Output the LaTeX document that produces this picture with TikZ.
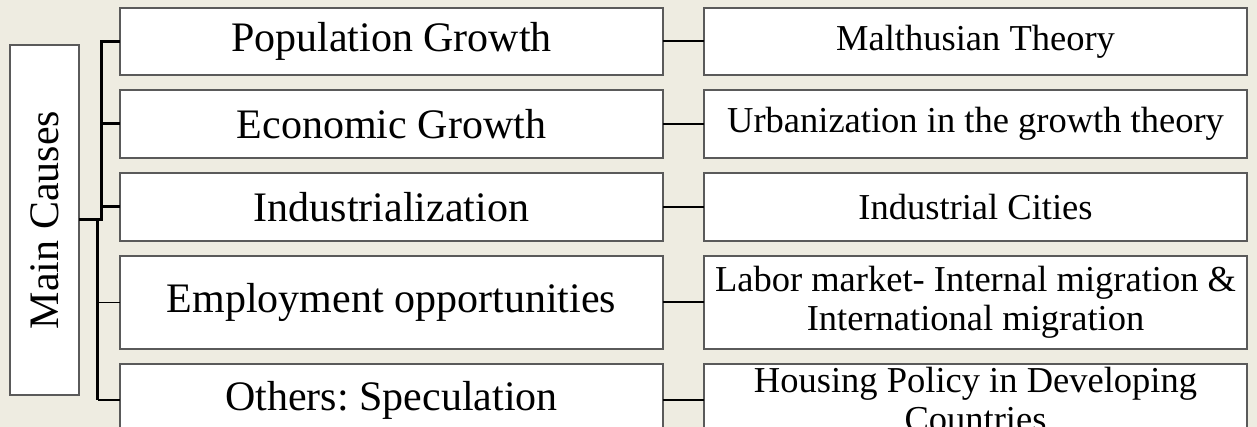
\documentclass[tikz,border=0pt]{standalone}
\usepackage{fontspec}
\setmainfont{Liberation Serif}
\usepackage{tikz}
\definecolor{bgtan}{HTML}{EEECE1}
\definecolor{boxline}{HTML}{5A5A5A}
\newcommand\LW{543}
\newcommand\RW{543}
\frenchspacing

\begin{document}
\begin{tikzpicture}[x=1pt,y=-1pt,inner sep=0pt,outer sep=0pt]

  \tikzstyle{cause}=[rectangle,draw=boxline,fill=white,line width=1.5pt,
                     minimum width=\LW pt,align=center,
                     font=\fontsize{42}{46}\selectfont]
  \tikzstyle{theory}=[rectangle,draw=boxline,fill=white,line width=1.5pt,
                      minimum width=\RW pt,align=center,
                      font=\fontsize{36.5}{39}\selectfont]
  \tikzstyle{trunk}=[line width=3pt]
  \tikzstyle{stem}=[line width=2.5pt]
  \tikzstyle{twig}=[line width=1.4pt]
  \tikzstyle{link}=[line width=2pt]

  \clip (0,0) rectangle (1257,427);
  \fill[bgtan] (0,0) rectangle (1257,427);

  \node[cause,minimum width=69pt,minimum height=350pt] (MC) at (44.5,220)
        {\rotatebox{90}{Main Causes}};

  \node[cause,minimum height=67pt] (POP) at (391.5,41.5)  {Population Growth};
  \node[cause,minimum height=68pt] (ECO) at (391.5,124)   {Economic Growth};
  \node[cause,minimum height=68pt] (IND) at (391.5,207)   {Industrialization};
  \node[cause,minimum height=93pt] (EMP) at (391.5,302.5) {Employment opportunities};
  \node[cause,minimum height=72pt] (OTH) at (391.5,400)   {Others: Speculation};

  \node[theory,minimum height=67pt] (MAL) at (975.5,41.5)  {Malthusian Theory};
  \node[theory,minimum height=68pt] (URB) at (975.5,124)   {Urbanization in the growth theory};
  \node[theory,minimum height=68pt] (ICT) at (975.5,207)   {Industrial Cities};
  \node[theory,minimum height=93pt] (LAB) at (975.5,302.5) {Labor market- Internal migration \&\\ International migration};
  \node[theory,minimum height=72pt] (HOU) at (975.5,400)   {Housing Policy in Developing\\ Countries};

  \coordinate (JU) at (101.5,220);
  \coordinate (JL) at (97.5,220);

  % upper branches
  \draw[trunk] (MC.east) -- (JU) |- (POP.west);
  \draw[trunk] (JU) |- (ECO.west);
  \draw[trunk] (JU) |- (IND.west);

  % lower branches
  \draw[stem] (JL) -- (JL |- OTH.west);
  \draw[twig] (JL |- EMP.west) -- (EMP.west);
  \draw[twig] (JL |- OTH.west) -- (OTH.west);

\path[link]
(POP) edge (MAL)
(ECO) edge (URB)
(IND) edge (ICT)
(EMP) edge (LAB)
(OTH) edge (HOU)
;
\end{tikzpicture}
\end{document}
